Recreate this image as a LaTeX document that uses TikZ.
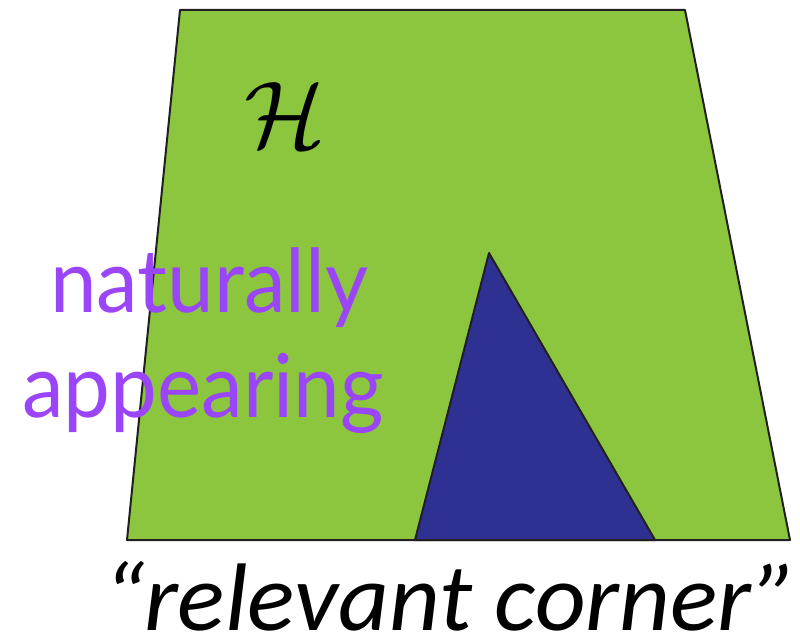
\documentclass[tikz,border=0pt]{standalone}
\usepackage{fontspec}
\newfontfamily\labelfont[FakeStretch=0.95]{Lato}
\newfontfamily\capfont[FakeStretch=1.03]{Carlito}
\definecolor{hgreen}{HTML}{8CC63F}
\definecolor{hblue}{HTML}{2E3192}
\definecolor{hpurple}{HTML}{9B45F9}
\definecolor{edge}{HTML}{231F20}
\begin{document}
\begin{tikzpicture}[x=1pt,y=-1pt,
  region/.style={draw=edge,line width=2pt,line join=round},
  purplelabel/.style={anchor=base west,inner sep=0pt,text=hpurple,font=\labelfont\fontsize{88}{88}\selectfont},
]
\useasboundingbox (0,0) rectangle (800,639);
\coordinate (tl) at (180,10);
\coordinate (tr) at (685,10);
\coordinate (br) at (790,540);
\coordinate (bl) at (127,540);
\coordinate (apex) at (489,253);
\coordinate (tbl) at (415,540);
\coordinate (tbr) at (655,540);
\filldraw[region,fill=hgreen] (tl) -- (tr) -- (br) -- (bl) -- cycle;
\filldraw[region,fill=hblue] (apex) -- (tbr) -- (tbl) -- cycle;
\node[inner sep=0pt] (H) at (285,115) {\scalebox{9.5}{$\mathcal{H}$}};
\node[purplelabel] (nat) at (50,312) {naturally};
\node[purplelabel] (app) at (22,417) {appearing};
\node[anchor=base west,inner sep=0pt,text depth=0pt,font=\capfont\itshape\fontsize{96}{96}\selectfont] (rc) at (103,630) {“relevant corner”};
\end{tikzpicture}
\end{document}
